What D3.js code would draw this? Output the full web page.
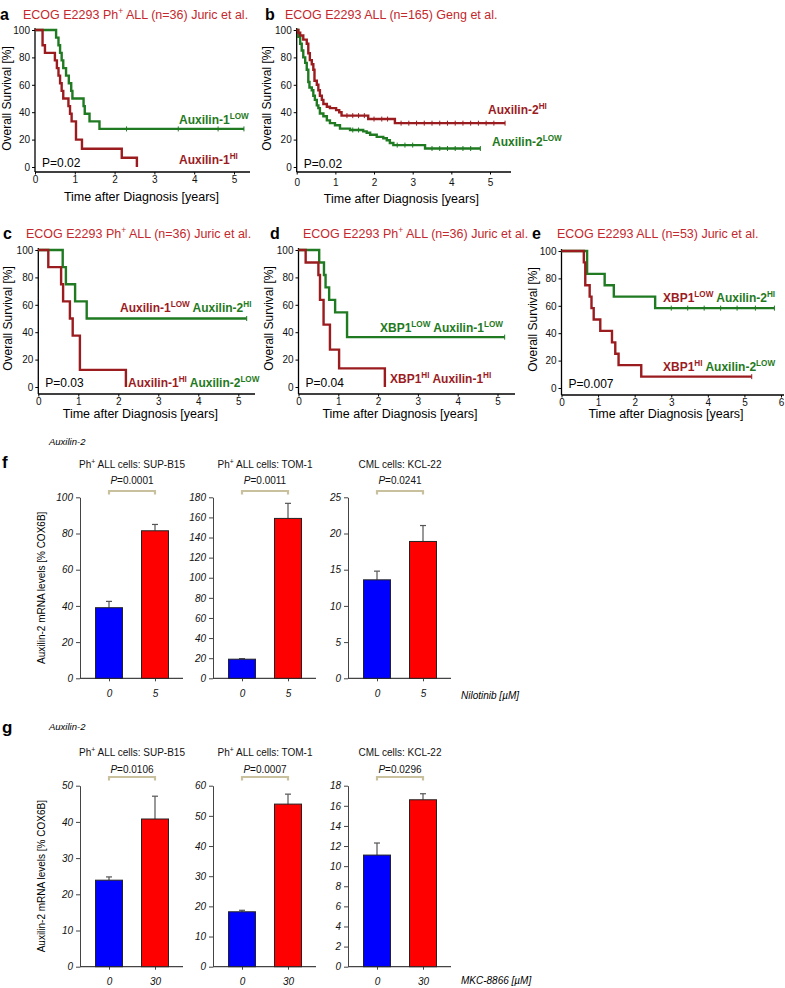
<!DOCTYPE html>
<html><head><meta charset="utf-8">
<script src="https://cdn.jsdelivr.net/npm/d3@7"></script>
<style>
body{margin:0;background:#fff}
svg{display:block}
text{font-family:"Liberation Sans",Arial,Helvetica,sans-serif}
</style>
</head><body>
<script>
// ---------------- DATA ----------------
// Kaplan-Meier step curves: [time (years), survival %]
const aHi  = [[0,100],[0.19,88.9],[0.25,83.3],[0.50,77.8],[0.55,72.2],[0.59,66.7],[0.63,61.1],[0.67,55.6],[0.71,50],[0.84,44.4],[0.88,38.9],[0.92,33.3],[1.03,20],[1.18,13.3],[2.18,6.7],[2.56,0],[2.56,0]];
const aLow = [[0,100],[0.53,94.4],[0.59,88.9],[0.63,83.3],[0.67,77.8],[0.71,72.2],[0.78,66.7],[0.85,61.1],[0.91,55.6],[0.94,50],[1.22,44.4],[1.25,38.9],[1.37,33.3],[1.62,27.8],[5.25,27.8]];
const aLowCens = [2.3,3.6,4.6,5.25];

const bHi  = [[0,100],[0.04,98],[0.09,96],[0.17,93],[0.26,90],[0.3,83],[0.34,78],[0.39,75],[0.43,71],[0.46,63],[0.52,60],[0.56,56],[0.6,52],[0.65,49],[0.69,46],[0.78,44],[0.86,43],[1.02,41.5],[1.1,40],[1.16,37.5],[1.85,35],[2.54,32],[5.39,32]];
const bLow = [[0,100],[0.04,95],[0.09,90],[0.13,85],[0.17,80],[0.22,76],[0.26,71],[0.3,62],[0.33,58],[0.39,56],[0.43,52],[0.47,49],[0.52,45],[0.56,43],[0.6,39],[0.69,37],[0.78,34],[0.86,32],[0.99,30.5],[1.12,28],[1.38,27],[1.72,26],[1.81,25],[1.9,23.5],[2.07,22],[2.24,21],[2.33,19.5],[2.41,17.5],[2.5,16],[3.32,13.5],[4.75,13.5]];
const bHiCens  = [1.3,1.45,1.6,1.75,2.0,2.2,2.35,2.7,2.9,3.1,3.3,3.5,3.7,3.9,4.1,4.3,4.5,4.7,4.9,5.1,5.39];
const bLowCens = [1.45,1.6,2.6,2.8,3.0,3.5,3.7,3.9,4.1,4.3,4.5,4.75];

const cHi  = [[0,100],[0.25,87.5],[0.57,75],[0.62,62.5],[0.79,50],[0.86,37.5],[1.04,12.5],[2.19,0],[2.19,0]];
const cLow = [[0,100],[0.61,87.5],[0.69,75],[0.92,62.5],[1.21,50],[5.21,50]];
const cLowCens = [5.21];

const dHi  = [[0,100],[0.18,90.9],[0.5,81.8],[0.54,63.6],[0.63,45.5],[0.79,27.3],[1.02,13.6],[2.17,0],[2.17,0]];
const dLow = [[0,100],[0.52,90.9],[0.64,81.8],[0.68,72.7],[0.77,63.6],[0.92,54.5],[1.22,36.4],[5.18,36.4]];
const dLowCens = [5.18];

const eHi  = [[0,100],[0.61,91.7],[0.65,75],[0.77,66.7],[0.82,58.3],[0.88,50],[1.06,41.7],[1.38,33.3],[1.47,25],[1.56,16.7],[2.18,8.3],[5.2,8.3]];
const eLow = [[0,100],[0.7,83.3],[1.18,75],[1.43,66.7],[2.56,58.3],[5.82,58.3]];
const eHiCens  = [5.2];
const eLowCens = [3.0,3.45,3.9,4.35,4.8,5.3,5.82];

const kmXTicksA = [0,1,2,3,4,5];
const kmXTicksE = [0,1,2,3,4,5,6];
const kmYTicks  = [0,20,40,60,80,100];

// qPCR bar data
const barDosesF = ["0","5"];
const barDosesG = ["0","30"];
const cellLines = [["Ph","+"," ALL cells: SUP-B15"],["Ph","+"," ALL cells: TOM-1"],["CML cells: KCL-22","",""]];
const fMeans = [[39,81.5],[19,159],[13.6,18.9]];
const fErrs  = [[3.5,3.5],[0.6,15],[1.2,2.2]];
const fP     = ["0.0001","0.0011","0.0241"];
const fMax   = [100,180,25];
const fStep  = [20,20,5];
const gMeans = [[23.9,40.8],[18.2,53.9],[11.1,16.6]];
const gErrs  = [[0.9,6.3],[0.5,3.3],[1.2,0.6]];
const gP     = ["0.0106","0.0007","0.0296"];
const gMax   = [50,60,18];
const gStep  = [10,10,2];

// ---------------- STYLE ----------------
const RED = "#9b1c1f", GREEN = "#1f7a22", TITLE = "#c4282d";
const W = 785, H = 988;
const svg = d3.select("body").append("svg").attr("width", W).attr("height", H);

function rich(g, x, y, parts, opt) {
  const t = g.append("text").attr("x", x).attr("y", y)
    .attr("font-size", opt.size).attr("font-weight", opt.bold ? "bold" : "normal")
    .attr("font-style", opt.italic ? "italic" : "normal")
    .attr("text-anchor", opt.anchor || "start");
  let up = false;
  parts.forEach(p => {
    if (!p.t) return;
    const s = t.append("tspan").text(p.t).attr("fill", p.c || opt.color || "#000");
    if (p.sup) { s.attr("font-size", opt.size * 0.68).attr("dy", up ? 0 : -opt.size * 0.38); up = true; }
    else if (p.it) { s.attr("font-style", "italic"); if (up) { s.attr("dy", opt.size * 0.38); up = false; } }
    else if (up) { s.attr("dy", opt.size * 0.38); up = false; }
  });
  return t;
}

function kmPanel(cfg) {
  const g = svg.append("g");
  const x = d3.scaleLinear().domain([0, cfg.tmax]).range([cfg.x0, cfg.x1]);
  const y = d3.scaleLinear().domain([0, 100]).range([cfg.y0, cfg.y100]);
  // axes
  const xa = g.append("g").attr("transform", `translate(0,${cfg.axisY})`)
    .call(d3.axisBottom(x).tickValues(cfg.xticks).tickFormat(d3.format("d")).tickSize(2.5).tickSizeOuter(0).tickPadding(cfg.xpad));
  xa.select(".domain").remove();
  g.append("line").attr("x1", x(0)).attr("x2", cfg.axisEnd).attr("y1", cfg.axisY).attr("y2", cfg.axisY).attr("stroke", "#000").attr("stroke-width", 1.3);
  const ya = g.append("g").attr("transform", `translate(${x(0)},0)`)
    .call(d3.axisLeft(y).tickValues(kmYTicks).tickFormat(d3.format("d")).tickSize(3).tickSizeOuter(0).tickPadding(2));
  ya.select(".domain").remove();
  g.append("line").attr("x1", x(0)).attr("x2", x(0)).attr("y1", y(100) - 2).attr("y2", cfg.axisY).attr("stroke", "#000").attr("stroke-width", 1.3);
  g.selectAll(".tick text").attr("font-size", 10).attr("fill", "#111").attr("font-family", "Liberation Sans, Arial, sans-serif");
  g.selectAll(".tick line").attr("stroke", "#000");
  // axis titles
  g.append("text").attr("x", (x(0) + x(5)) / 2 + cfg.titleDx).attr("y", cfg.xTitleY).attr("text-anchor", "middle")
    .attr("font-size", 12.5).text("Time after Diagnosis [years]");
  g.append("text").attr("transform", `translate(${cfg.yTitleX},${y(50)}) rotate(-90)`).attr("text-anchor", "middle")
    .attr("font-size", 12).text("Overall Survival [%]");
  // curves
  const line = d3.line().x(d => x(d[0])).y(d => y(d[1])).curve(d3.curveStepAfter);
  cfg.curves.forEach(c => {
    g.append("path").attr("d", line(c.data)).attr("fill", "none").attr("stroke", c.color).attr("stroke-width", 2.4);
    (c.cens || []).forEach(t => {
      let v = c.data[0][1];
      c.data.forEach(d => { if (d[0] <= t) v = d[1]; });
      g.append("line").attr("x1", x(t)).attr("x2", x(t)).attr("y1", y(v) - 2.5).attr("y2", y(v) + 2.5)
        .attr("stroke", c.color).attr("stroke-width", 1);
    });
  });
  // letters, titles
  g.append("text").attr("x", cfg.letterX).attr("y", cfg.titleY + 1).attr("font-size", 16).attr("font-weight", "bold").text(cfg.letter);
  rich(g, cfg.titleX, cfg.titleY, cfg.title, { size: 12.5, color: TITLE });
  g.append("text").attr("x", x(0) + 7).attr("y", cfg.pY).attr("font-size", 12).text(cfg.p);
  cfg.labels.forEach(l => rich(g, l.x, l.y, l.parts, { size: 12, bold: true }));
}

const T = (s, c) => ({ t: s, c: c });
const S = (s, c) => ({ t: s, c: c, sup: true });
const titlePh = n => [T("ECOG E2293 Ph"), S("+"), T(" ALL (n=" + n + ") Juric et al.")];

kmPanel({ letter: "a", letterX: 0, titleX: 23, titleY: 19, title: titlePh(36), tmax: 5, x0: 35, x1: 234, axisEnd: 250,
  y0: 167, y100: 30, axisY: 172, xticks: kmXTicksA, xpad: 1, xTitleY: 201, titleDx: 7, yTitleX: 11, pY: 167, p: "P=0.02",
  curves: [{ data: aLow, color: GREEN, cens: aLowCens }, { data: aHi, color: RED }],
  labels: [{ x: 179, y: 124, parts: [T("Auxilin-1", GREEN), S("LOW", GREEN)] },
           { x: 179, y: 164, parts: [T("Auxilin-1", RED), S("HI", RED)] }] });

kmPanel({ letter: "b", letterX: 265, titleX: 285, titleY: 19, title: [T("ECOG E2293 ALL (n=165) Geng et al.")], tmax: 5, x0: 296.7, x1: 490, axisEnd: 511,
  y0: 167, y100: 30, axisY: 172, xticks: kmXTicksA, xpad: 4, xTitleY: 203, titleDx: 8, yTitleX: 271, pY: 168, p: "P=0.02",
  curves: [{ data: bLow, color: GREEN, cens: bLowCens }, { data: bHi, color: RED, cens: bHiCens }],
  labels: [{ x: 488, y: 114, parts: [T("Auxilin-2", RED), S("HI", RED)] },
           { x: 492, y: 146, parts: [T("Auxilin-2", GREEN), S("LOW", GREEN)] }] });

kmPanel({ letter: "c", letterX: 3, titleX: 26, titleY: 238, title: titlePh(36), tmax: 5, x0: 38.3, x1: 238.3, axisEnd: 255,
  y0: 387, y100: 250, axisY: 394, xticks: kmXTicksA, xpad: 1, xTitleY: 418, titleDx: 2, yTitleX: 12, pY: 387, p: "P=0.03",
  curves: [{ data: cLow, color: GREEN, cens: cLowCens }, { data: cHi, color: RED }],
  labels: [{ x: 120, y: 312, parts: [T("Auxilin-1", RED), S("LOW", RED), T(" Auxilin-2", GREEN), S("HI", GREEN)] },
           { x: 128, y: 387, parts: [T("Auxilin-1", RED), S("HI", RED), T(" Auxilin-2", GREEN), S("LOW", GREEN)] }] });

kmPanel({ letter: "d", letterX: 270, titleX: 303, titleY: 238, title: titlePh(36), tmax: 5, x0: 298.5, x1: 497.5, axisEnd: 515,
  y0: 387, y100: 250, axisY: 394, xticks: kmXTicksA, xpad: 1, xTitleY: 418, titleDx: 2, yTitleX: 273, pY: 387, p: "P=0.04",
  curves: [{ data: dLow, color: GREEN, cens: dLowCens }, { data: dHi, color: RED }],
  labels: [{ x: 380, y: 332, parts: [T("XBP1", GREEN), S("LOW", GREEN), T(" Auxilin-1", GREEN), S("LOW", GREEN)] },
           { x: 390, y: 383, parts: [T("XBP1", RED), S("HI", RED), T(" Auxilin-1", RED), S("HI", RED)] }] });

kmPanel({ letter: "e", letterX: 532, titleX: 557, titleY: 238, title: [T("ECOG E2293 ALL (n=53) Juric et al.")], tmax: 6, x0: 561.5, x1: 781, axisEnd: 784,
  y0: 388, y100: 251, axisY: 395, xticks: kmXTicksE, xpad: 1, xTitleY: 418, titleDx: 13, yTitleX: 537, pY: 388, p: "P=0.007",
  curves: [{ data: eLow, color: GREEN, cens: eLowCens }, { data: eHi, color: RED, cens: eHiCens }],
  labels: [{ x: 663, y: 302, parts: [T("XBP1", RED), S("LOW", RED), T(" Auxilin-2", GREEN), S("HI", GREEN)] },
           { x: 663, y: 371, parts: [T("XBP1", RED), S("HI", RED), T(" Auxilin-2", GREEN), S("LOW", GREEN)] }] });

// ---------------- BAR PANELS ----------------
function barPanel(cfg) {
  const g = svg.append("g");
  g.append("text").attr("x", 2).attr("y", cfg.letterY).attr("font-size", 17).attr("font-weight", "bold").text(cfg.letter);
  g.append("text").attr("x", 49).attr("y", cfg.geneY).attr("font-size", 9.5).attr("font-style", "italic").text("Auxilin-2");
  g.append("text").attr("transform", `translate(45,${(cfg.zero + cfg.top) / 2}) rotate(-90)`).attr("text-anchor", "middle")
    .attr("font-size", 10).text("Auxilin-2 mRNA levels [% COX6B]");
  const axX = [80, 213, 348];
  cfg.means.forEach((m, i) => {
    const sg = g.append("g");
    const y = d3.scaleLinear().domain([0, cfg.max[i]]).range([cfg.zero, cfg.top]);
    const x = d3.scalePoint().domain(cfg.doses).range([axX[i] + 29, axX[i] + 75]);
    const bw = 27;
    // title & p
    const tp = cellLines[i];
    rich(sg, (x(cfg.doses[0]) + x(cfg.doses[1])) / 2, cfg.titleY, [T(tp[0]), S(tp[1]), T(tp[2])], { size: 10, anchor: "middle", color: "#111" });
    rich(sg, (x(cfg.doses[0]) + x(cfg.doses[1])) / 2, cfg.pY, [{ t: "P", it: true }, T("=" + cfg.p[i])], { size: 10, anchor: "middle", color: "#111" });
    sg.append("path").attr("d", `M${x(cfg.doses[0])},${cfg.brY + 3.5}V${cfg.brY}H${x(cfg.doses[1])}V${cfg.brY + 3.5}`)
      .attr("fill", "none").attr("stroke", "#c9c09e").attr("stroke-width", 2.2);
    // axes
    const ya = sg.append("g").attr("transform", `translate(${axX[i]},0)`)
      .call(d3.axisLeft(y).tickValues(d3.range(0, cfg.max[i] + 0.001, cfg.step[i])).tickFormat(d3.format("d")).tickSize(4).tickSizeOuter(0).tickPadding(3));
    ya.select(".domain").attr("stroke", "#444");
    ya.selectAll(".tick line").attr("stroke", "#444");
    ya.selectAll(".tick text").attr("font-size", 10).attr("font-style", "italic").attr("fill", "#111")
      .attr("font-family", "Liberation Sans, Arial, sans-serif");
    const xa = sg.append("g").attr("transform", `translate(0,${cfg.zero})`)
      .call(d3.axisBottom(x).tickSize(3).tickSizeOuter(0).tickPadding(cfg.xpad));
    xa.select(".domain").remove();
    xa.selectAll(".tick line").attr("stroke", "#444");
    xa.selectAll(".tick text").attr("font-size", 10).attr("font-style", "italic").attr("fill", "#111")
      .attr("font-family", "Liberation Sans, Arial, sans-serif");
    sg.append("line").attr("x1", axX[i]).attr("x2", x(cfg.doses[1]) + 28).attr("y1", cfg.zero).attr("y2", cfg.zero)
      .attr("stroke", "#444").attr("stroke-width", 1.2);
    // bars
    const cols = ["#0000ff", "#ff0000"];
    cfg.doses.forEach((d, j) => {
      const v = m[j], e = cfg.errs[i][j];
      sg.append("line").attr("x1", x(d)).attr("x2", x(d)).attr("y1", y(v)).attr("y2", y(v + e)).attr("stroke", "#555").attr("stroke-width", 1.2);
      sg.append("line").attr("x1", x(d) - 3).attr("x2", x(d) + 3).attr("y1", y(v + e)).attr("y2", y(v + e)).attr("stroke", "#555").attr("stroke-width", 1.2);
      sg.append("rect").attr("x", x(d) - bw / 2).attr("width", bw).attr("y", y(v)).attr("height", y(0) - y(v))
        .attr("fill", cols[j]).attr("stroke", "#222").attr("stroke-width", 1);
    });
  });
  g.append("text").attr("x", 461).attr("y", cfg.drugY).attr("font-size", 10).attr("font-style", "italic").text(cfg.drug);
}

barPanel({ letter: "f", letterY: 468, geneY: 445, titleY: 468, pY: 484, brY: 491, top: 497.3, zero: 678.3, xpad: 9, drugY: 699,
  doses: barDosesF, means: fMeans, errs: fErrs, p: fP, max: fMax, step: fStep, drug: "Nilotinib [\u00b5M]" });
barPanel({ letter: "g", letterY: 733, geneY: 730, titleY: 756, pY: 773, brY: 777, top: 785.7, zero: 966.7, xpad: 8, drugY: 984,
  doses: barDosesG, means: gMeans, errs: gErrs, p: gP, max: gMax, step: gStep, drug: "MKC-8866 [\u00b5M]" });
</script>
</body></html>
